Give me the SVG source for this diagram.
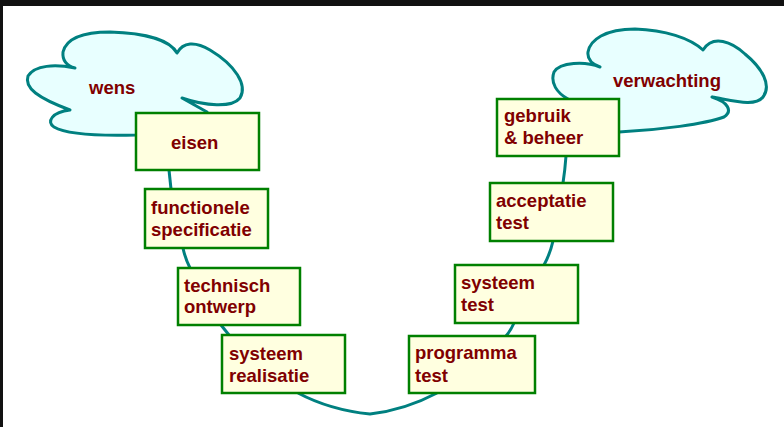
<svg xmlns="http://www.w3.org/2000/svg" width="784" height="427" viewBox="0 0 784 427">
<style>
.cloud{fill:#E8FFFF;stroke:#008080;stroke-width:3;stroke-linejoin:round}
.box{fill:#FFFFE0;stroke:#008000;stroke-width:2.5}
.lbl{font-family:"Liberation Sans",Arial,sans-serif;font-weight:bold;font-size:18.5px;fill:#800000}
.conn{fill:none;stroke:#008080;stroke-width:3}
</style>
<rect x="0" y="0" width="784" height="427" fill="#FFFFFF"/>
<rect x="0" y="0" width="784" height="6" fill="#111111"/>
<rect x="0" y="0" width="3" height="427" fill="#111111"/>
<g id="connectors">
<path class="conn" d="M169,170 L171,189"/>
<path class="conn" d="M183,248 Q185,258 190,268"/>
<path class="conn" d="M221,325 Q225,330 229,335"/>
<path class="conn" d="M298,393 Q330,410 370,414 Q405,410 437,393"/>
<path class="conn" d="M506,336 Q511,330 514,323"/>
<path class="conn" d="M544,265 Q550,254 553,241"/>
<path class="conn" d="M563,183 Q565,170 566,156"/>
</g>
<g id="wens">
<path class="cloud" d="M75,68 C55,64 35,65 28,76 C24,88 38,98 70,110 C52,112 46,122 54,127 C66,134 100,136 136,135 L200,120 L207,112 L182,98 C205,106 232,108 240,98 C248,85 235,65 210,50 C195,41 183,42 177,53 C170,40 145,33 110,32 C80,32 66,40 63,52 C62,62 68,66 75,68 Z"/>
<text class="lbl" x="89" y="94">wens</text>
</g>
<g id="verwachting">
<path class="cloud" d="M600,67 C585,61 560,62 554,72 C550,83 557,93 568,99 L600,120 L619,132 C660,130 705,124 724,117 C733,111 728,102 712,97 C735,101 755,107 763,97 C772,85 762,68 745,54 C732,42 713,34 703,50 C690,38 665,30 635,29 C605,29 590,40 588,52 C587,60 592,64 600,67 Z"/>
<text class="lbl" x="613" y="87">verwachting</text>
</g>
<g id="eisen">
<rect class="box" x="136" y="113" width="123" height="57"/>
<text class="lbl" x="171" y="149">eisen</text>
</g>
<g id="functionele-specificatie">
<rect class="box" x="145" y="189" width="123" height="59"/>
<text class="lbl" x="151" y="214">functionele</text>
<text class="lbl" x="151" y="236">specificatie</text>
</g>
<g id="technisch-ontwerp">
<rect class="box" x="178" y="268" width="122" height="57"/>
<text class="lbl" x="184" y="292">technisch</text>
<text class="lbl" x="184" y="313">ontwerp</text>
</g>
<g id="systeem-realisatie">
<rect class="box" x="222" y="335" width="123" height="58"/>
<text class="lbl" x="229" y="360">systeem</text>
<text class="lbl" x="229" y="382">realisatie</text>
</g>
<g id="programma-test">
<rect class="box" x="409" y="336" width="126" height="57"/>
<text class="lbl" x="415" y="359">programma</text>
<text class="lbl" x="415" y="382">test</text>
</g>
<g id="systeem-test">
<rect class="box" x="455" y="265" width="123" height="58"/>
<text class="lbl" x="461" y="289">systeem</text>
<text class="lbl" x="461" y="311">test</text>
</g>
<g id="acceptatie-test">
<rect class="box" x="490" y="183" width="123" height="58"/>
<text class="lbl" x="496" y="207">acceptatie</text>
<text class="lbl" x="496" y="229">test</text>
</g>
<g id="gebruik-beheer">
<rect class="box" x="497" y="99" width="122" height="57"/>
<text class="lbl" x="504" y="122">gebruik</text>
<text class="lbl" x="504" y="144">&amp; beheer</text>
</g>
</svg>
